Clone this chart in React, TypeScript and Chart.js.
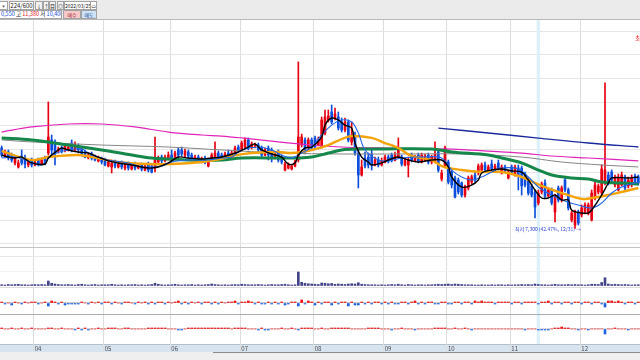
import React, { useEffect, useRef } from 'react';
import { Chart, registerables } from 'chart.js';

Chart.register(...registerables);

const FONT = '"Noto Sans CJK KR", "DejaVu Sans", sans-serif';

// ---- categories / axis ticks ----
const monthStarts = [10, 31, 51, 72, 94, 115, 134, 153, 174];
const monthLabels = ['04', '05', '06', '07', '08', '09', '10', '11', '12'];
const priceGrid = [6000, 8000, 10000, 12000, 14000, 16000, 18000, 20000, 22000, 24000];
const volumeGrid = [0, 600, 1200];
const highlightIndex = 161;
const lowLabel = '최저 7,300 (42.47%, 12/31) →';
const highLabel = '최고';
const highLabelPrice = 23430;

// ---- daily candles ----
const opens = [
  14110, 13430, 13770, 13510, 12840, 12500, 13430, 13260, 12670, 13090, 12670, 13090, 12750, 13260, 13680, 14790,
  14530, 13850, 14110, 13940, 13940, 14530, 13940, 14280, 14020, 13770, 13260, 13600, 13430, 13010, 13260, 13090,
  12580, 12500, 12920, 12500, 12840, 12410, 12750, 12330, 12750, 12410, 12670, 12240, 12750, 12580, 12410, 12920,
  13340, 13010, 13260, 13510, 13340, 13940, 13940, 13510, 13770, 13510, 13090, 13340, 12920, 13260, 12580, 13090,
  13340, 13680, 13510, 13260, 13680, 13340, 13680, 14190, 13940, 14190, 14790, 14190, 14280, 14360, 14110, 13510,
  14110, 13940, 13260, 13680, 13340, 12240, 12410, 12330, 12580, 13090, 14360, 14790, 14190, 14790, 14960, 14360,
  14190, 15380, 16480, 17160, 16650, 16730, 16310, 15630, 16310, 14620, 15210, 13680, 11820, 13260, 13340, 13600,
  12670, 13090, 12670, 12920, 13340, 13510, 13090, 13340, 13340, 12670, 12670, 13510, 13010, 13510, 12920, 13090,
  13510, 12920, 12920, 13770, 11480, 12580, 12920, 12070, 11570, 11400, 11140, 10120, 10720, 11230, 11820, 11990,
  12240, 12670, 12240, 12750, 12240, 12840, 11990, 12500, 11570, 12500, 11820, 12410, 12410, 11900, 11400, 10890,
  10380, 9450, 10380, 11140, 10040, 10550, 8680, 10720, 9700, 11400, 10550, 8010, 7580, 8680, 8430, 8680,
  8600, 8010, 9870, 10380, 10290, 11140, 11820, 12070, 10970, 10550, 10970, 11650, 10890, 10970, 11730, 11650,
];
const highs = [
  14280, 13940, 13940, 13680, 13430, 13090, 13940, 13510, 13090, 13260, 13090, 13260, 13260, 13430, 18010, 15210,
  14790, 14190, 14280, 14450, 14360, 14790, 14620, 14450, 14190, 13940, 13680, 13770, 13510, 13430, 13340, 13260,
  13090, 13090, 13090, 12920, 13010, 12840, 12920, 12840, 12920, 12750, 12840, 12750, 12920, 12750, 15040, 13430,
  13510, 13510, 13770, 13940, 13850, 14110, 14190, 14020, 13940, 13680, 13510, 13510, 13340, 13430, 13260, 13680,
  14620, 13850, 13680, 13770, 13940, 13850, 14280, 14360, 14700, 14960, 14960, 14620, 14530, 14530, 14280, 14110,
  14280, 14110, 13770, 13940, 13510, 12920, 12840, 12670, 13090, 21400, 15290, 14960, 14960, 14960, 15120, 15040,
  16730, 17330, 17330, 17750, 17500, 17160, 16650, 16650, 16480, 16310, 15460, 13940, 13090, 13770, 13680, 13940,
  13340, 13340, 13260, 13510, 13510, 13680, 13770, 14960, 13510, 13260, 13340, 13680, 13510, 13680, 13680, 13600,
  13680, 13510, 14620, 13940, 12240, 14280, 13090, 12240, 11730, 11570, 11230, 10970, 11730, 11820, 12070, 12750,
  12840, 12920, 12670, 13090, 12750, 13090, 12670, 12670, 12240, 12670, 12670, 12670, 12580, 12070, 11570, 11060,
  10550, 10550, 11230, 11400, 10720, 10720, 10210, 10890, 10890, 11570, 10720, 8770, 8850, 8850, 9280, 9450,
  9450, 10550, 11230, 11060, 12670, 19620, 12070, 12240, 11820, 11900, 12070, 11820, 11650, 11820, 11900, 11820,
];
const lows = [
  13340, 13260, 13090, 12920, 12670, 12410, 12670, 12410, 12500, 12500, 12580, 12580, 12670, 12670, 13510, 13510,
  12670, 13680, 13680, 13770, 13850, 13770, 13850, 13680, 13430, 13260, 13180, 13090, 13010, 12920, 12750, 12580,
  12500, 11990, 12410, 12410, 12330, 12240, 12240, 12240, 12240, 12330, 12160, 12160, 12070, 11990, 12070, 12750,
  12840, 12920, 13090, 13010, 13260, 13340, 13430, 13340, 13260, 13010, 12920, 12840, 12840, 12750, 12500, 13010,
  13260, 13180, 13090, 13180, 13260, 13260, 13510, 13770, 13850, 14110, 13940, 14020, 14110, 13770, 13340, 13430,
  13090, 12920, 13180, 12920, 12750, 12160, 12330, 12240, 12500, 12920, 14190, 13600, 13940, 13940, 14020, 14280,
  14110, 15210, 16310, 16140, 16480, 15630, 15460, 15460, 14620, 14360, 13510, 10720, 11730, 12410, 12410, 12240,
  12580, 12500, 12580, 12840, 12840, 12920, 13010, 13260, 12580, 12580, 11650, 12920, 12920, 12840, 12840, 13010,
  12750, 12750, 12840, 12070, 11310, 12410, 11060, 10720, 9870, 10210, 9950, 9950, 10550, 11060, 11230, 11820,
  12070, 12070, 12070, 12160, 12070, 12240, 11900, 11990, 11480, 11900, 11730, 10550, 10120, 10800, 10120, 9950,
  8180, 9280, 10210, 9870, 9950, 9280, 7840, 9530, 9530, 10380, 8850, 7840, 7300, 7580, 8260, 8510,
  8430, 7920, 9700, 10210, 10120, 10970, 10970, 11230, 10800, 10460, 10890, 10550, 10720, 10800, 10970, 10970,
];
const closes = [
  13510, 13770, 13260, 13090, 13260, 12840, 12840, 12750, 12920, 12670, 12920, 12750, 13090, 12840, 15040, 13940,
  13680, 14020, 13850, 14280, 14190, 13940, 14360, 13940, 13600, 13340, 13510, 13260, 13090, 13260, 12920, 12670,
  12920, 12840, 12580, 12750, 12500, 12670, 12410, 12670, 12410, 12580, 12330, 12580, 12240, 12070, 13090, 13260,
  13010, 13340, 13510, 13180, 13680, 13510, 13600, 13850, 13430, 13180, 13340, 13010, 13180, 12920, 13090, 13510,
  13680, 13340, 13260, 13600, 13340, 13680, 14110, 13940, 14530, 14790, 14110, 14450, 14360, 13940, 13510, 13940,
  13510, 13260, 13600, 13090, 12920, 12750, 12670, 12580, 12920, 15040, 15040, 13770, 14790, 14110, 14190, 14790,
  16480, 16730, 16820, 16310, 16990, 15800, 15630, 16310, 14790, 15210, 13680, 11820, 12500, 12580, 12670, 12670,
  13090, 12670, 13010, 13340, 13010, 13090, 13510, 13940, 12750, 13090, 13090, 13090, 13340, 13010, 13510, 13430,
  12920, 13340, 13600, 12240, 11990, 14110, 11230, 10970, 9950, 10380, 10120, 10800, 11570, 11650, 11400, 12580,
  12670, 12240, 12500, 12330, 12580, 12410, 12500, 12160, 12070, 12070, 12500, 11820, 10890, 10970, 10290, 10120,
  9110, 10290, 11060, 10040, 10550, 9450, 10040, 9700, 10720, 10550, 9020, 8600, 8680, 7750, 9020, 9280,
  9280, 10290, 10970, 10890, 12330, 12240, 11140, 11400, 11570, 11570, 11820, 10720, 11400, 11570, 11140, 11140,
];

// ---- volume (thousand shares) ----
const volumes = [
  50, 40, 60, 50, 60, 70, 50, 50, 40, 50, 60, 50, 60, 50, 200, 110,
  80, 60, 50, 50, 60, 50, 40, 60, 70, 50, 40, 50, 60, 40, 50, 50,
  50, 70, 50, 40, 50, 40, 50, 50, 60, 40, 50, 40, 50, 60, 110, 70,
  50, 40, 50, 50, 70, 50, 40, 50, 50, 60, 40, 50, 40, 50, 60, 80,
  60, 50, 40, 50, 40, 50, 60, 50, 70, 60, 50, 50, 50, 60, 50, 40,
  50, 60, 50, 50, 60, 70, 50, 40, 50, 560, 150, 110, 90, 80, 70, 60,
  120, 110, 90, 100, 70, 80, 70, 60, 80, 90, 80, 130, 70, 60, 50, 50,
  50, 40, 50, 40, 50, 60, 50, 70, 50, 40, 60, 50, 40, 50, 50, 40,
  50, 50, 60, 70, 60, 70, 80, 60, 80, 70, 60, 50, 50, 50, 40, 40,
  50, 40, 40, 50, 40, 50, 50, 40, 50, 40, 50, 50, 60, 50, 60, 50,
  80, 60, 50, 50, 40, 50, 70, 50, 50, 50, 60, 50, 60, 50, 50, 40,
  50, 70, 70, 60, 140, 330, 80, 60, 70, 60, 50, 60, 50, 40, 50, 50,
];

// ---- lower indicator panels ----
const flowA = [
  1, -1, 0, -2, 1, 0, -1, 1, 0, 1, 1, -1, 0, 1, -3, 2,
  1, -1, 1, -2, -1, -1, -1, -1, 1, 0, -1, 1, 0, 1, -1, 1,
  1, -1, 1, 0, -1, 1, 1, 0, -1, 1, 0, 1, -1, 1, -1, 1,
  1, -1, 1, 0, 1, 2, -1, 1, -1, 1, 0, 1, -1, 1, 1, -1,
  1, -1, 1, 0, 1, 1, 2, -1, 1, 1, 2, 1, -1, 1, -1, -1,
  1, -1, 1, -1, 1, -2, -1, 1, 1, -3, 3, -1, 2, 1, -2, 1,
  -1, 1, 1, -2, 1, -1, 1, 1, -3, 1, -2, -2, 1, -1, 1, -1,
  1, 1, -1, 1, -1, 1, -1, -1, 1, 1, -1, 1, 2, -1, 1, -1,
  1, 1, -1, -1, 1, 1, -1, -1, 1, 1, -1, 1, 1, -1, 2, 1,
  2, 1, 1, 1, -1, 1, 1, 1, 1, -1, 1, 1, -1, 1, 1, 1,
  1, -1, 1, 1, 2, -1, 1, 1, -1, 1, 1, -1, 1, 1, -1, 1,
  1, -1, 1, 1, -1, -4, 2, 2, 1, 2, 1, -1, 1, 1, -1, 1,
];
const flowB = [
  1, 0, 0, 1, 0, 0, 1, 0, 0, 1, 0, 0, 0, 0, 1, 1,
  0, 0, 1, 0, 0, 0, -1, 1, -1, 1, -1, 0, 0, 1, 0, 0,
  1, 1, 1, 0, 0, 1, 1, 0, 0, 0, 0, 0, 1, 1, 1, 1,
  1, 1, 0, 0, 0, -1, -1, 0, 1, 1, 1, 1, 1, 1, 1, 1,
  1, 1, 1, 1, 1, 0, 1, 1, 1, 1, 0, 0, 0, -1, 1, -1,
  -1, 0, 0, 0, 1, 0, 0, 1, 0, -1, 1, 1, 1, 1, 0, 0,
  1, 0, 0, 1, 1, 1, 1, 1, 1, 0, 0, 0, 0, 0, 1, 1,
  1, 1, 0, 0, 0, -1, 0, 0, 1, 0, 0, 0, -1, 0, 0, 0,
  0, 0, 1, 1, 1, 1, 0, 0, 1, 0, 0, 1, 0, -1, 0, 0,
  0, 0, 0, 0, 0, 0, 0, 0, 0, 0, 0, 0, 0, -1, 0, 0,
  0, -1, -1, -1, -1, 0, 1, 1, 2, 1, 1, 0, 0, -1, 0, 0,
  -1, 0, 0, 0, 0, -5, 0, 0, 1, 0, 0, 0, -1, 0, 0, 0,
];

// ---- moving-average lines: [day index, price] ----
const ma5 = [
  [0, 13510], [2, 13340], [4, 13260], [6, 13340], [9, 12840], [13, 12750], [14, 13260], [17, 13940], [18, 14110],
  [20, 13940], [23, 13770], [26, 13680], [29, 13340], [32, 13010], [35, 12840], [39, 12670], [44, 12410], [47, 12500],
  [50, 12840], [53, 13340], [56, 13260], [60, 13180], [63, 13260], [66, 13340], [71, 13770], [74, 14190], [76, 14450],
  [78, 13940], [81, 13600], [84, 13340], [86, 12750], [88, 12840], [89, 13500], [91, 14110], [93, 14190], [96, 15040],
  [97, 16050], [99, 16650], [101, 16480], [103, 16050], [105, 15800], [106, 14530], [108, 13340], [110, 12920],
  [111, 12670], [114, 12840], [116, 13090], [119, 13340], [122, 13090], [125, 12920], [129, 13090], [132, 13090],
  [134, 12500], [135, 11650], [138, 10800], [141, 10970], [143, 11400], [144, 11990], [147, 12240], [150, 12330],
  [153, 12160], [156, 12070], [158, 11400], [160, 10550], [162, 9870], [164, 9870], [166, 10120], [168, 9700],
  [170, 9700], [171, 8850], [174, 8600], [176, 8600], [177, 8850], [180, 10120], [182, 11140], [183, 11570],
  [188, 11570], [191, 11650],
];
const ma10 = [
  [0, 13260], [4, 13340], [9, 12920], [12, 12670], [15, 13510], [20, 13940], [24, 14020], [27, 13510], [32, 13090],
  [38, 12840], [42, 12500], [48, 12580], [51, 12920], [56, 13090], [62, 13090], [66, 13260], [69, 13340], [72, 13940],
  [77, 14190], [81, 13940], [84, 13510], [87, 13260], [90, 13680], [93, 14190], [96, 15210], [99, 16050], [102, 16480],
  [105, 16310], [107, 15380], [109, 13940], [113, 13090], [116, 13010], [120, 13260], [126, 13340], [132, 13260],
  [135, 12240], [138, 11650], [141, 11400], [144, 11650], [147, 12070], [150, 12410], [155, 12330], [158, 11650],
  [161, 10800], [165, 10120], [168, 9700], [173, 9270], [177, 9020], [180, 9450], [183, 10290], [186, 10800], [191, 11230],
];
const ma20 = [
  [0, 13850], [9, 13090], [14, 13340], [23, 13510], [30, 13180], [35, 12920], [44, 12750], [51, 12750], [60, 12920],
  [66, 13180], [69, 13430], [75, 13680], [83, 13770], [87, 13680], [93, 13940], [98, 14360], [102, 14870], [105, 15120],
  [111, 14960], [115, 14530], [119, 14110], [123, 13430], [129, 13090], [132, 12580], [138, 12240], [144, 12070],
  [150, 12070], [156, 11650], [162, 10890], [168, 10290], [174, 9790], [177, 9870], [182, 10120], [186, 10380], [191, 10720],
];
const ma60 = [
  [0, 14960], [9, 14790], [20, 14360], [30, 13940], [39, 13510], [45, 13260], [50, 13180], [56, 13090], [66, 13090],
  [72, 13260], [83, 13260], [89, 13260], [93, 13340], [98, 13680], [102, 13940], [107, 14020], [113, 14020], [129, 14020],
  [135, 13770], [146, 13510], [150, 13260], [156, 12840], [161, 12240], [165, 11820], [171, 11570], [176, 11480],
  [180, 11230], [186, 11140], [191, 11060],
];
const maGray = [
  [0, 14790], [9, 14620], [30, 14360], [50, 14190], [66, 13940], [84, 13680], [102, 13600], [120, 13600], [138, 13600],
  [156, 13340], [168, 12920], [180, 12670], [191, 12500],
];
const maPink = [
  [0, 15460], [9, 15890], [20, 16140], [30, 16140], [40, 15890], [50, 15460], [60, 15210], [66, 15120], [72, 14960],
  [83, 14620], [93, 14360], [102, 14190], [113, 14110], [129, 14020], [135, 14020], [146, 13850], [156, 13680],
  [165, 13430], [176, 13260], [191, 13010],
];
const maNavy = [[131, 15800], [146, 15380], [161, 14950], [176, 14530], [191, 14190]];

// ---- styles ----
const RED = '#e60012';
const BLUE = '#0d4fdc';
const SMALL_RED = '#f01010';
const SMALL_BLUE = '#1e62e0';
const N = closes.length;
const idx = closes.map((_, i) => i);

function xScale(showLabels: boolean) {
  return {
    type: 'linear',
    min: -0.5,
    max: N - 0.5,
    offset: false,
    border: { display: false },
    grid: { offset: false, color: '#dddddd', lineWidth: 1, drawTicks: showLabels, tickLength: 8 },
    ticks: showLabels
      ? {
          display: true,
          autoSkip: false,
          maxRotation: 0,
          minRotation: 0,
          align: 'start',
          padding: -7,
          color: '#4a4a4a',
          font: { size: 6, family: FONT },
          callback: (v: number) => {
            const k = monthStarts.indexOf(v + 0.5);
            return k >= 0 ? ' ' + monthLabels[k] : '';
          },
        }
      : { display: false },
    afterBuildTicks: (s: any) => {
      s.ticks = monthStarts.map((m) => ({ value: m - 0.5 }));
    },
    afterFit: (s: any) => {
      s.height = showLabels ? 8 : 0;
    },
  };
}

function yScale(min: number, max: number, grid: number[], color: any) {
  return {
    type: 'linear',
    min,
    max,
    border: { display: false },
    ticks: { display: false },
    grid: { drawTicks: false, color },
    afterBuildTicks: (s: any) => {
      s.ticks = grid.map((v) => ({ value: v }));
    },
    afterFit: (s: any) => {
      s.width = 0;
    },
  };
}

const bandPlugin = {
  id: 'band',
  beforeDatasetsDraw(chart: any) {
    const { ctx, chartArea, scales } = chart;
    const x0 = scales.x.getPixelForValue(highlightIndex - 0.5);
    const x1 = scales.x.getPixelForValue(highlightIndex + 0.5);
    ctx.save();
    ctx.fillStyle = '#dcf1f9';
    ctx.fillRect(x0, chartArea.top, x1 - x0, chartArea.bottom - chartArea.top);
    ctx.restore();
  },
};

const labelPlugin = {
  id: 'labels',
  afterDatasetsDraw(chart: any) {
    const { ctx, chartArea, scales } = chart;
    const lowPrice = Math.min(...lows);
    const lowIndex = lows.indexOf(lowPrice);
    ctx.save();
    ctx.font = `5px ${FONT}`;
    ctx.fillStyle = '#2b3fd0';
    ctx.textAlign = 'right';
    ctx.textBaseline = 'middle';
    ctx.fillText(lowLabel, scales.x.getPixelForValue(lowIndex) + 6, scales.y.getPixelForValue(lowPrice) + 1);
    ctx.font = `7px ${FONT}`;
    ctx.fillStyle = '#f03a3a';
    ctx.textAlign = 'left';
    ctx.fillText(highLabel, chartArea.right - 5, scales.y.getPixelForValue(highLabelPrice));
    ctx.restore();
  },
};

const baseOptions = (scales: any, plugins: any = {}) => ({
  responsive: false,
  maintainAspectRatio: false,
  animation: false,
  devicePixelRatio: 1,
  events: [],
  layout: { padding: 0 },
  plugins: { legend: { display: false }, tooltip: { enabled: false }, ...plugins },
  scales,
});

const line = (pts: number[][], color: string, width: number, order: number) => ({
  type: 'line',
  data: pts.map(([x, y]) => ({ x, y })),
  borderColor: color,
  borderWidth: width,
  pointRadius: 0,
  tension: 0.35,
  fill: false,
  order,
});

const signBars = (vals: number[]) => ({
  type: 'bar',
  data: idx.map((i) => ({ x: i, y: vals[i] })),
  backgroundColor: vals.map((v) => (v >= 0 ? SMALL_RED : SMALL_BLUE)),
  barThickness: 2,
  borderWidth: 0,
  grouped: false,
});

export default function App() {
  const mainRef = useRef<HTMLCanvasElement>(null);
  const volRef = useRef<HTMLCanvasElement>(null);
  const aRef = useRef<HTMLCanvasElement>(null);
  const bRef = useRef<HTMLCanvasElement>(null);

  useEffect(() => {
    const colors = idx.map((i) => (closes[i] >= opens[i] ? RED : BLUE));
    const charts: Chart[] = [];

    charts.push(
      new Chart(mainRef.current as HTMLCanvasElement, {
        type: 'bar',
        data: {
          datasets: [
            line(ma5, '#000000', 1.4, 0),
            line(ma10, '#2466ea', 1.1, 1),
            line(ma20, '#f4a30c', 2.4, 2),
            line(ma60, '#15874a', 3, 3),
            line(maGray, '#858585', 1, 4),
            line(maPink, '#e024b8', 1.2, 5),
            line(maNavy, '#1b2a9c', 1.3, 6),
            {
              type: 'bar',
              data: idx.map((i) => ({ x: i, y: [opens[i], closes[i]] })),
              backgroundColor: colors,
              barThickness: 2,
              minBarLength: 1,
              borderWidth: 0,
              grouped: false,
              order: 10,
            },
            {
              type: 'bar',
              data: idx.map((i) => ({ x: i, y: [lows[i], highs[i]] })),
              backgroundColor: colors,
              barThickness: 1,
              borderWidth: 0,
              grouped: false,
              order: 11,
            },
          ] as any,
        },
        options: baseOptions({ x: xScale(false), y: yScale(5717, 24955, priceGrid, '#e6e6e6') }) as any,
        plugins: [bandPlugin, labelPlugin],
      })
    );

    charts.push(
      new Chart(volRef.current as HTMLCanvasElement, {
        type: 'bar',
        data: {
          datasets: [
            {
              data: idx.map((i) => ({ x: i, y: volumes[i] })),
              backgroundColor: '#44448a',
              barThickness: 2,
              borderWidth: 0,
              grouped: false,
            },
          ] as any,
        },
        options: baseOptions({
          x: xScale(false),
          y: yScale(0, 1520, volumeGrid, (c: any) => (c.tick && c.tick.value === 0 ? '#8a8ab2' : c.tick && c.tick.value === 600 ? '#f2f2f2' : '#e8e8e8')),
        }) as any,
        plugins: [bandPlugin],
      })
    );

    charts.push(
      new Chart(aRef.current as HTMLCanvasElement, {
        type: 'bar',
        data: { datasets: [signBars(flowA)] as any },
        options: baseOptions({ x: xScale(false), y: yScale(-11, 15, [0], '#c9c9c9') }) as any,
        plugins: [bandPlugin],
      })
    );

    charts.push(
      new Chart(bRef.current as HTMLCanvasElement, {
        type: 'bar',
        data: { datasets: [signBars(flowB)] as any },
        options: baseOptions({ x: xScale(true), y: yScale(-15, 14, [0], '#dadada') }) as any,
        plugins: [bandPlugin],
      })
    );

    return () => charts.forEach((c) => c.destroy());
  }, []);

  const abs = (l: number, t: number, w: number, h: number, extra: any = {}) => ({
    position: 'absolute' as const,
    left: l,
    top: t,
    width: w,
    height: h,
    ...extra,
  });
  const box = (l: number, t: number, w: number, h: number, extra: any = {}) => ({
    ...abs(l, t, w, h),
    boxSizing: 'border-box' as const,
    border: '1px solid #a2a2a2',
    background: '#ffffff',
    fontFamily: FONT,
    fontSize: 5,
    lineHeight: `${h - 2}px`,
    whiteSpace: 'nowrap' as const,
    overflow: 'hidden',
    color: '#222',
    textAlign: 'center' as const,
    ...extra,
  });

  return (
    <div style={{ position: 'fixed', left: 0, top: 0, width: 640, height: 360, overflow: 'hidden', background: '#ffffff' }}>
      {/* toolbar */}
      <div style={abs(0, 0, 640, 19, { background: '#ebebeb' })} />
      <div style={abs(0, 19, 640, 1, { background: '#b8b8b8' })} />
      <div style={box(-1, 1, 9, 9, { color: '#666' })}>▾</div>
      <div style={box(9, 1, 25, 9, { fontSize: 6 })}>224/600</div>
      <div style={box(35, 1, 8, 9, { background: '#f3f3f3' })}>↓</div>
      <div style={box(43, 1, 6, 9, { background: '#f3f3f3' })}>↑</div>
      <div style={box(49, 1, 7, 9, { background: '#f3f3f3' })}>目</div>
      <div style={box(57, 1, 7, 9, { background: '#f3f3f3' })}>◎</div>
      <div style={box(64, 1, 27, 9)}>2022/03/25</div>
      <div style={box(90, 1, 7, 9)}>▭</div>
      <div style={box(-1, 10, 63, 9, { textAlign: 'left', paddingLeft: 1, fontSize: 5.5 })}>
        <span style={{ color: '#1a4fd0' }}>0,550</span> 고 <span style={{ color: '#e02020' }}>11,380</span> 저{' '}
        <span style={{ color: '#1a4fd0' }}>10,400</span>
      </div>
      <div style={box(63, 10, 18, 9, { background: '#f6c8c8', color: '#a02a2a' })}>매수</div>
      <div style={box(81, 10, 16, 9, { background: '#cde2f7', color: '#24508f' })}>매도</div>

      {/* panel frames */}
      <div style={abs(0, 247, 640, 1, { background: '#c4c4c4' })} />
      <div style={abs(0, 287, 640, 1, { background: '#dcdcdc' })} />
      <div style={abs(0, 314, 640, 1, { background: '#acacac' })} />
      <div style={abs(0, 344, 640, 8, { background: '#d8e3f0', borderTop: '1px solid #b2bfcd', boxSizing: 'border-box' })} />
      <div style={abs(0, 352, 640, 8, { background: '#efefef' })} />
      <div style={abs(213, 352, 427, 1, { background: '#8c8c8c' })} />

      {/* charts */}
      <canvas ref={mainRef} width={640} height={227} style={abs(0, 20, 640, 227)} />
      <canvas ref={volRef} width={640} height={38} style={abs(0, 248, 640, 38)} />
      <canvas ref={aRef} width={640} height={26} style={abs(0, 288, 640, 26)} />
      <canvas ref={bRef} width={640} height={37} style={abs(0, 315, 640, 37)} />
    </div>
  );
}
